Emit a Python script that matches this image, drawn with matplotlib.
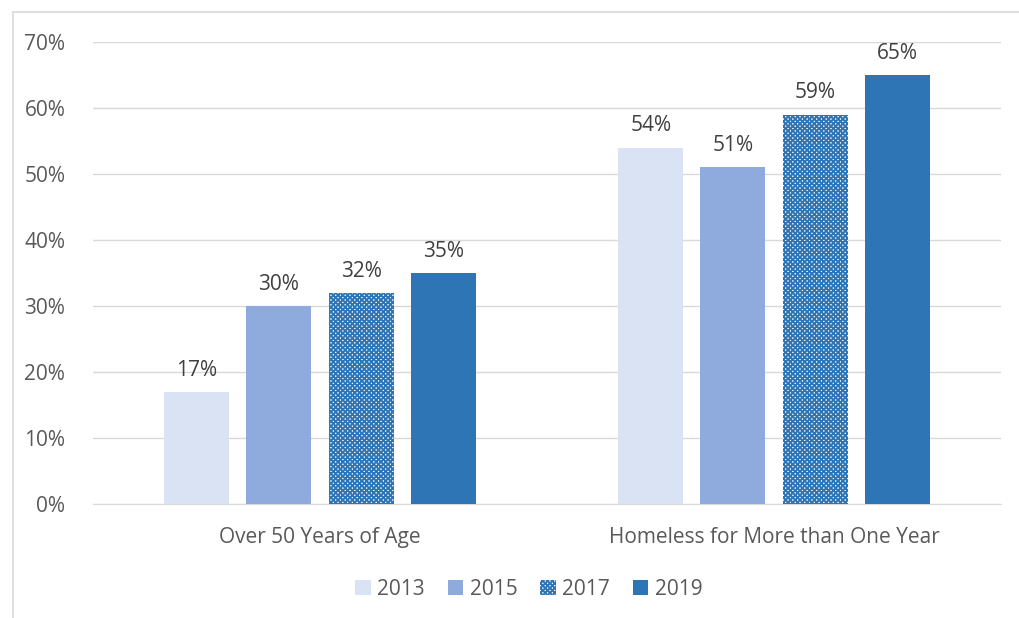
import matplotlib.pyplot as plt
import numpy as np
from matplotlib.patches import Rectangle

plt.rcParams['font.family'] = ['Open Sans', 'DejaVu Sans']
plt.rcParams['hatch.linewidth'] = 1.4

categories = ['Over 50 Years of Age', 'Homeless for More than One Year']
years = ['2013', '2015', '2017', '2019']
values = {
    '2013': [17, 54],
    '2015': [30, 51],
    '2017': [32, 59],
    '2019': [35, 65],
}
colors = ['#DAE3F3', '#8FAADC', 'white', '#2E75B6']
hatches = [None, None, 'xxxxxxx', None]

txt = '#595959'

fig = plt.figure(figsize=(10.19, 6.18), dpi=100)
ax = fig.add_axes([0.0913, 0.184, 0.891, 0.748])

x = np.arange(len(categories))
w = 0.143
step = 0.181
for i, y in enumerate(years):
    pos = x + (i - 1.5) * step
    bars = ax.bar(pos, values[y], width=w, color=colors[i], hatch=hatches[i],
                  edgecolor='#2E75B6' if hatches[i] else 'none', linewidth=0,
                  label=y, zorder=3)
    for b, v in zip(bars, values[y]):
        ax.text(b.get_x() + b.get_width() / 2, v + 1.7, f'{v}%', ha='center',
                va='bottom', fontsize=15, color='#404040')

ax.set_ylim(0, 70)
ax.set_xlim(-0.5, 1.5)
ax.set_yticks(range(0, 71, 10))
ax.set_yticklabels([f'{t}%' for t in range(0, 71, 10)])
ax.set_xticks(x)
ax.set_xticklabels(categories)
ax.grid(axis='y', color='#D9D9D9', linewidth=1, zorder=0)
for s in ['top', 'right', 'left']:
    ax.spines[s].set_visible(False)
ax.spines['bottom'].set_color('#D9D9D9')
ax.tick_params(axis='both', length=0, labelsize=15, colors=txt)
ax.tick_params(axis='y', pad=20)
ax.tick_params(axis='x', pad=16)

leg = ax.legend(loc='upper center', bbox_to_anchor=(0.48, -0.12), ncol=4,
                frameon=False, fontsize=15, handlelength=0.75, handleheight=0.75,
                columnspacing=1.1, handletextpad=0.3)
for t in leg.get_texts():
    t.set_color(txt)

# outer chart border (left and top)
fig.add_artist(Rectangle((0.013, -0.01), 1.1, 0.99, transform=fig.transFigure,
                         fill=False, edgecolor='#D9D9D9', linewidth=1.2))

fig.savefig('out.png', dpi=100)
